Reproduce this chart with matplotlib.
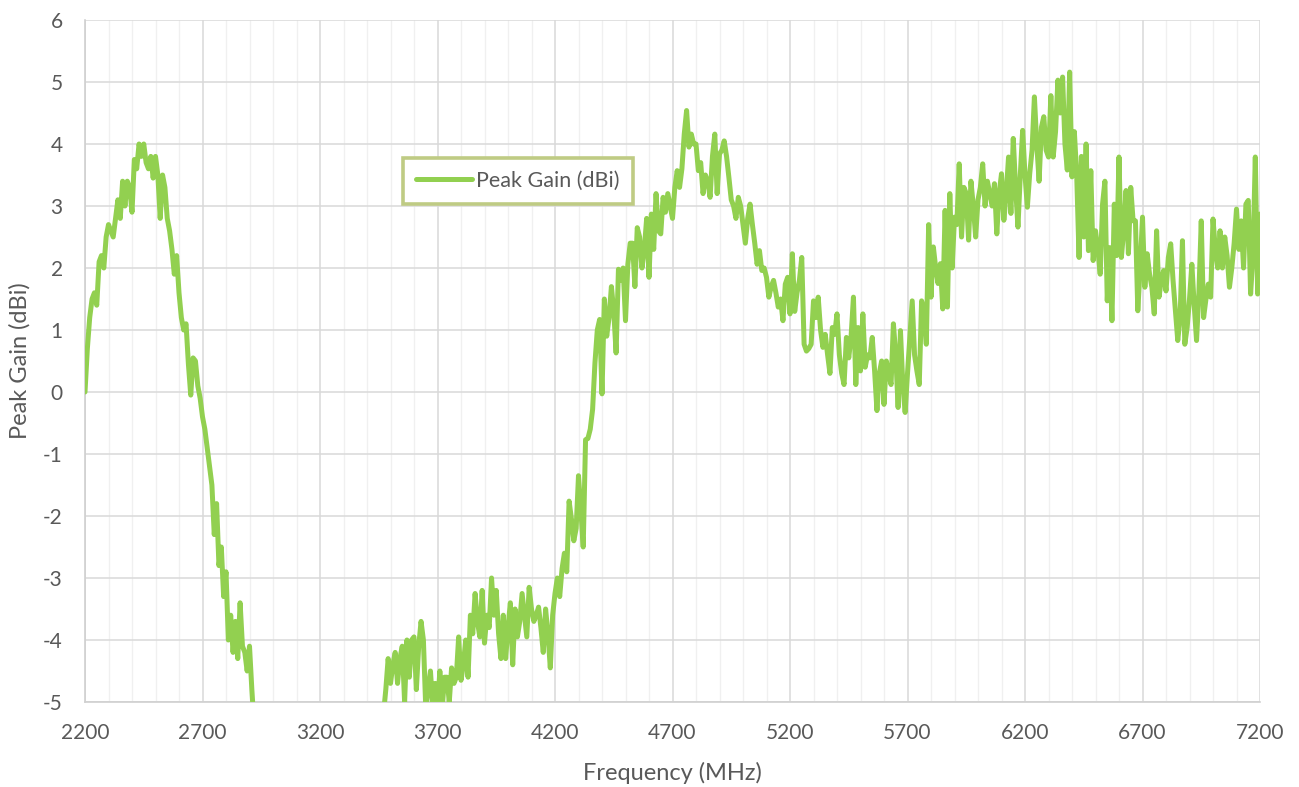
import numpy as np
import matplotlib
matplotlib.use("Agg")
import matplotlib.pyplot as plt
from matplotlib.ticker import MultipleLocator

# Frequency grid (MHz), 10 MHz steps from 2200 to 7200
freq_start = 2200
freq_step = 10

# Peak gain values (dBi), one row per 100 MHz
gain_rows = [
    [0.0, 0.7, 1.2, 1.5, 1.6, 1.4, 2.1, 2.2, 2.0, 2.5],            # 2200
    [2.7, 2.6, 2.5, 2.8, 3.1, 2.8, 3.4, 3.0, 3.4, 3.3],            # 2300
    [2.9, 3.75, 3.6, 4.0, 3.8, 4.0, 3.7, 3.6, 3.8, 3.45],          # 2400
    [3.8, 3.5, 2.8, 3.5, 3.3, 2.8, 2.6, 2.3, 1.9, 2.2],            # 2500
    [1.6, 1.2, 1.0, 1.1, 0.45, -0.05, 0.55, 0.5, 0.1, -0.1],       # 2600
    [-0.4, -0.6, -0.9, -1.2, -1.5, -2.3, -1.8, -2.8, -2.5, -3.3],  # 2700
    [-2.9, -4.0, -3.6, -4.2, -3.7, -4.3, -3.4, -4.1, -4.2, -4.5],  # 2800
    [-4.1, -4.8, -5.4, -5.8, -6.0, -6.2, -6.3, -6.5, -6.6, -6.8],  # 2900
    [-6.9, -7.0, -7.2, -7.3, -7.4, -7.5, -7.6, -7.7, -7.8, -7.9],  # 3000
    [-8.0, -8.0, -8.1, -8.1, -8.2, -8.2, -8.2, -8.2, -8.2, -8.1],  # 3100
    [-8.1, -8.0, -8.0, -7.9, -7.8, -7.7, -7.6, -7.5, -7.4, -7.3],  # 3200
    [-7.2, -7.1, -7.0, -6.9, -6.8, -6.7, -6.6, -6.5, -6.4, -6.3],  # 3300
    [-6.2, -6.1, -6.0, -5.9, -5.8, -5.7, -5.6, -5.2, -4.8, -4.3],  # 3400
    [-4.7, -4.4, -4.2, -4.7, -4.3, -4.1, -5.0, -4.0, -4.6, -4.0],  # 3500
    [-3.95, -4.8, -4.1, -3.7, -4.0, -5.1, -4.8, -4.5, -5.1, -4.7], # 3600
    [-5.1, -4.5, -5.1, -4.6, -4.6, -5.0, -4.45, -4.7, -4.6, -3.95],# 3700
    [-4.65, -4.4, -4.0, -4.6, -3.6, -3.9, -3.25, -3.7, -3.95, -3.2],  # 3800
    [-4.05, -3.6, -3.8, -3.0, -3.6, -3.2, -3.9, -4.3, -3.6, -4.3], # 3900
    [-3.8, -3.4, -4.4, -3.5, -3.95, -3.7, -3.25, -3.6, -3.95, -3.15],  # 4000
    [-3.5, -3.7, -3.6, -3.47, -3.8, -4.2, -3.5, -3.9, -4.45, -3.6],    # 4100
    [-3.25, -3.0, -3.3, -2.85, -2.6, -2.9, -1.76, -2.05, -2.4, -2.2],  # 4200
    [-1.35, -1.9, -2.5, -0.77, -0.75, -0.6, -0.28, 0.47, 1.0, 1.17],   # 4300
    [-0.03, 1.5, 0.9, 1.2, 1.7, 1.3, 0.63, 1.98, 1.8, 2.0],        # 4400
    [1.15, 2.06, 2.4, 2.4, 1.7, 2.65, 2.5, 2.0, 2.3, 2.8],         # 4500
    [1.85, 2.87, 2.3, 3.2, 2.6, 2.55, 3.14, 2.9, 3.2, 3.0],        # 4600
    [2.8, 3.3, 3.57, 3.3, 3.6, 4.16, 4.54, 3.95, 4.16, 4.0],       # 4700
    [4.0, 3.57, 3.7, 3.2, 3.5, 3.4, 3.14, 3.8, 4.16, 3.2],         # 4800
    [3.84, 3.9, 4.05, 3.8, 3.46, 3.1, 3.0, 2.8, 3.14, 3.0],        # 4900
    [2.7, 2.4, 2.8, 3.03, 2.7, 2.4, 2.06, 2.28, 1.96, 2.0],        # 5000
    [1.85, 1.53, 1.7, 1.8, 1.6, 1.37, 1.5, 1.15, 1.74, 1.85],      # 5100
    [1.26, 2.23, 1.3, 1.6, 1.8, 2.17, 0.77, 0.66, 0.7, 0.77],      # 5200
    [1.47, 1.2, 1.53, 1.0, 0.72, 0.93, 0.6, 0.3, 1.04, 0.93],      # 5300
    [1.26, 0.6, 0.3, 0.12, 0.88, 0.55, 0.9, 1.53, 0.12, 1.04],     # 5400
    [0.34, 1.26, 0.4, 0.6, 0.55, 0.88, 0.34, -0.3, 0.3, 0.5],      # 5500
    [-0.2, 0.5, 0.3, 0.12, 1.1, 0.6, -0.25, 0.99, 0.12, -0.33],    # 5600
    [0.3, 0.88, 1.47, 0.6, 0.34, 0.12, 1.47, 1.3, 0.77, 2.7],      # 5700
    [1.53, 2.34, 2.0, 1.75, 2.07, 1.34, 2.93, 1.37, 3.2, 2.0],     # 5800
    [2.82, 2.7, 3.68, 2.5, 3.3, 3.2, 2.45, 3.4, 3.0, 2.5],         # 5900
    [3.1, 3.3, 3.68, 3.0, 3.4, 3.2, 3.0, 3.36, 2.55, 3.2],         # 6000
    [3.52, 2.77, 3.2, 3.79, 2.88, 4.09, 3.3, 2.66, 3.5, 4.22],     # 6100
    [3.5, 2.98, 3.52, 3.9, 4.76, 4.0, 3.4, 4.27, 4.44, 3.9],       # 6200
    [3.79, 4.78, 3.79, 4.2, 5.03, 4.5, 5.08, 4.0, 3.58, 5.16],     # 6300
    [3.47, 4.2, 3.5, 2.17, 3.8, 2.5, 4.0, 2.28, 3.57, 2.12],       # 6400
    [2.6, 2.3, 1.9, 3.03, 3.4, 1.47, 2.33, 1.15, 3.03, 2.2],       # 6500
    [3.79, 2.17, 2.6, 3.25, 2.23, 3.3, 2.76, 2.76, 1.31, 2.0],     # 6600
    [2.82, 1.69, 2.23, 1.9, 1.69, 1.26, 2.6, 1.53, 1.8, 1.96],     # 6700
    [1.63, 2.17, 2.39, 1.8, 1.31, 0.83, 1.2, 2.44, 0.77, 1.04],    # 6800
    [1.5, 2.06, 1.4, 0.83, 1.6, 2.76, 1.2, 1.5, 1.74, 1.53],       # 6900
    [2.79, 2.3, 2.0, 2.6, 2.0, 2.5, 2.2, 1.69, 2.0, 2.4],          # 7000
    [2.95, 2.3, 2.76, 2.0, 3.03, 3.09, 1.58, 2.2, 3.79, 1.58],     # 7100
    [2.87],                                                        # 7200
]

x_ticks = [2200, 2700, 3200, 3700, 4200, 4700, 5200, 5700, 6200, 6700, 7200]
y_ticks = [-5, -4, -3, -2, -1, 0, 1, 2, 3, 4, 5, 6]

gain = np.concatenate([np.array(r, dtype=float) for r in gain_rows])
freq = freq_start + freq_step * np.arange(len(gain))

plt.rcParams['font.family'] = ['Lato', 'DejaVu Sans']
plt.rcParams['axes.unicode_minus'] = False

fig = plt.figure(figsize=(12.99, 7.87), dpi=100)
ax = fig.add_axes([85/1299, 1 - 702/787, (1260-85)/1299, (702-20)/787])

ax.plot(freq, gain, color='#92D050', lw=3.6, solid_joinstyle='round',
        solid_capstyle='round', label='Peak Gain (dBi)', zorder=3)

ax.set_xlim(2200, 7200)
ax.set_ylim(-5, 6)
ax.set_xticks(x_ticks)
ax.set_yticks(y_ticks)
ax.xaxis.set_minor_locator(MultipleLocator(100))

ax.grid(which='major', axis='both', color='#D9D9D9', lw=1.1, zorder=1)
ax.grid(which='minor', axis='x', color='#F0F0F0', lw=1.0, zorder=0)
ax.set_axisbelow(True)

for s in ['top', 'right']:
    ax.spines[s].set_visible(False)
ax.spines['left'].set_color('#D0D0D0')
ax.spines['bottom'].set_color('#D0D0D0')
ax.spines['left'].set_linewidth(1.2)
ax.spines['bottom'].set_linewidth(1.2)

ax.tick_params(which='both', length=0, colors='#595959', labelsize=15)
ax.tick_params(axis='x', pad=15)
ax.tick_params(axis='y', pad=16)

ax.set_xlabel('Frequency (MHz)', fontsize=17, color='#595959')
ax.set_ylabel('Peak Gain (dBi)', fontsize=17, color='#595959')
ax.xaxis.set_label_coords(0.5, -0.088)
ax.yaxis.set_label_coords(-0.046, 0.5)

leg = ax.legend(loc='center', bbox_to_anchor=(0.3685, 0.764), fontsize=15.5,
                frameon=True, fancybox=False, handlelength=2.6,
                handletextpad=0.2, borderpad=0.6, labelcolor='#595959')
leg.get_frame().set_edgecolor('#BFCB84')
leg.get_frame().set_linewidth(2.6)
leg.get_frame().set_facecolor('white')
leg.get_frame().set_alpha(1)

fig.savefig('out.png', dpi=100)
